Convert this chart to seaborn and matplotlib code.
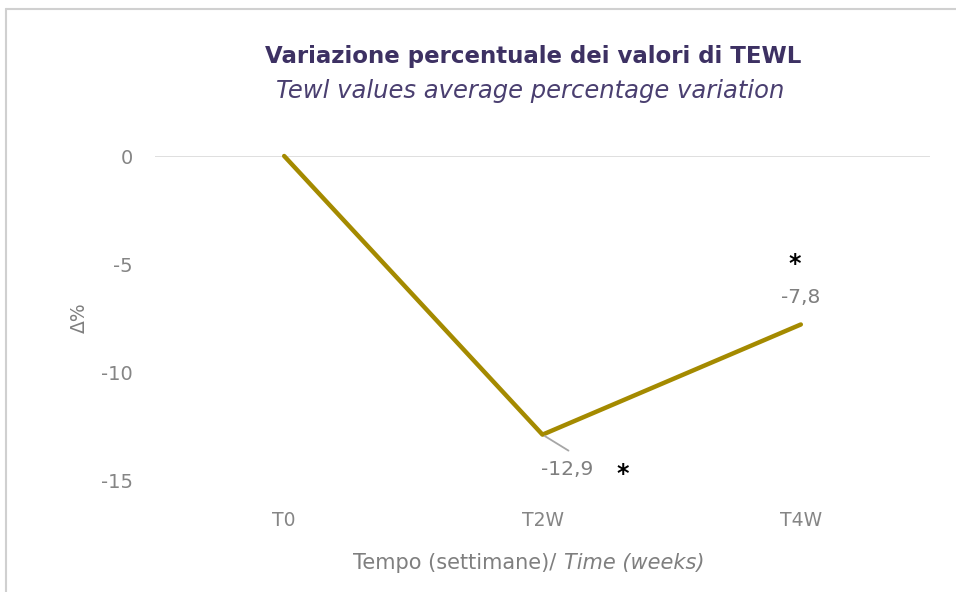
import pandas as pd
import seaborn as sns
import matplotlib.pyplot as plt
from matplotlib.lines import Line2D

# dati
tempi = ["T0", "T2W", "T4W"]
variazione = [0.0, -12.9, -7.8]
etichette = ["", "-12,9", "-7,8"]
y_ticks = [0, -5, -10, -15]

sns.set_theme(style="white")
plt.rcParams['font.family'] = ['DejaVu Sans']

df = pd.DataFrame({"Tempo": tempi, "Delta": variazione})

fig = plt.figure(figsize=(9.56, 5.92), dpi=100)
ax = fig.add_axes([155 / 956, 1 - 480 / 592, 775 / 956, 324 / 592])

sns.lineplot(data=df, x="Tempo", y="Delta", ax=ax, color="#A48A00",
             linewidth=3.2, sort=False, clip_on=False)

ax.set_xlim(-0.5, 2.5)
ax.set_ylim(-15, 0)
ax.set_yticks(y_ticks)
ax.set_yticklabels([str(v) for v in y_ticks])
for s in ax.spines.values():
    s.set_visible(False)
# linea dello zero (asse categorie)
ax.axhline(0, color="#d9d9d9", linewidth=1.2, zorder=0)

ax.tick_params(axis="y", length=0, pad=16, labelsize=14, labelcolor="#858585")
ax.tick_params(axis="x", length=0, pad=22, labelsize=13.5, labelcolor="#858585")
ax.set_xlabel("")
ax.set_ylabel("")

# linea guida e etichette dati
ax.annotate("", xy=(1, variazione[1]), xytext=(26, -16),
            textcoords="offset pixels",
            arrowprops=dict(arrowstyle="-", color="#a6a6a6", lw=1.3,
                            shrinkA=0, shrinkB=2))
ax.annotate(etichette[1], xy=(1, variazione[1]), xytext=(25, -35),
            textcoords="offset pixels", ha="center", va="center",
            fontsize=14.5, color="#7f7f7f")
ax.annotate("*", xy=(1, variazione[1]), xytext=(80, -39),
            textcoords="offset pixels", ha="center", va="center",
            fontsize=17, color="black", fontweight="bold")
ax.annotate(etichette[2], xy=(2, variazione[2]), xytext=(0, 27),
            textcoords="offset pixels", ha="center", va="center",
            fontsize=14.5, color="#7f7f7f")
ax.annotate("*", xy=(2, variazione[2]), xytext=(-6, 60),
            textcoords="offset pixels", ha="center", va="center",
            fontsize=17, color="black", fontweight="bold")

# titoli
fig.text(533 / 956, 1 - 56 / 592, "Variazione percentuale dei valori di TEWL",
         ha="center", va="center", fontsize=16.5, fontweight="bold", color="#3d3163")
fig.text(530 / 956, 1 - 91 / 592, "Tewl values average percentage variation",
         ha="center", va="center", fontsize=17.5, style="italic", color="#4a3f70")

# titoli assi
fig.text(79 / 956, 1 - 318 / 592, "Δ%", rotation=90, ha="center", va="center",
         fontsize=13.5, color="#7f7f7f")
fig.text(563 / 956, 1 - 563 / 592, "Tempo (settimane)/ ", ha="right", va="center",
         fontsize=15, color="#7f7f7f")
fig.text(564 / 956, 1 - 563 / 592, "Time (weeks)", ha="left", va="center",
         fontsize=15, color="#7f7f7f", style="italic")

# bordo del riquadro
fig.add_artist(Line2D([6 / 956, 1], [1 - 9 / 592, 1 - 9 / 592],
                      transform=fig.transFigure, color="#d0d0d0", lw=1.5))
fig.add_artist(Line2D([6 / 956, 6 / 956], [1 - 9 / 592, 0],
                      transform=fig.transFigure, color="#d0d0d0", lw=1.5))

fig.savefig("out.png", dpi=100, facecolor="white")
